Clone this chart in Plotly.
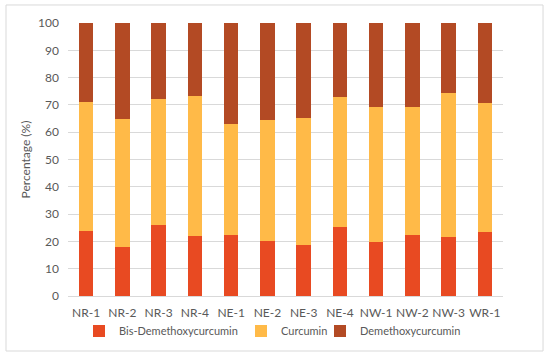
import plotly.graph_objects as go

categories = ["NR-1", "NR-2", "NR-3", "NR-4", "NE-1", "NE-2", "NE-3", "NE-4", "NW-1", "NW-2", "NW-3", "WR-1"]
bis_demethoxycurcumin = [23.8, 18.0, 25.9, 22.1, 22.3, 20.0, 18.7, 25.4, 19.9, 22.3, 21.5, 23.6]
curcumin = [47.1, 46.7, 46.4, 51.3, 40.6, 44.5, 46.5, 47.5, 49.3, 47.0, 52.8, 47.1]
demethoxycurcumin = [29.1, 35.3, 27.7, 26.6, 37.1, 35.5, 34.8, 27.1, 30.8, 30.7, 25.7, 29.3]
y_ticks = [0, 10, 20, 30, 40, 50, 60, 70, 80, 90, 100]

FAM = "Lato, Open Sans, Liberation Sans, sans-serif"
font = dict(family=FAM, size=12, color="#595959")
leg_font = dict(family=FAM, size=11, color="#595959")

L, R, T, B = 68, 47, 23, 61
PW = 550 - L - R

def px_x(px):
    return (px - L) / PW

fig = go.Figure()
fig.add_trace(go.Bar(x=categories, y=bis_demethoxycurcumin, name="Bis-Demethoxycurcumin",
                     marker=dict(color="#E84A22", line=dict(width=0)), legend="legend"))
fig.add_trace(go.Bar(x=categories, y=curcumin, name="Curcumin",
                     marker=dict(color="#FFBA48", line=dict(width=0)), legend="legend2"))
fig.add_trace(go.Bar(x=categories, y=demethoxycurcumin, name="Demethoxycurcumin",
                     marker=dict(color="#B34A24", line=dict(width=0)), legend="legend3"))

leg_common = dict(orientation="h", xanchor="left", y=-0.128, yanchor="middle",
                  font=leg_font, itemwidth=30, bgcolor="rgba(0,0,0,0)", borderwidth=0)

fig.update_layout(
    width=550, height=357,
    barmode="stack", bargap=0.6,
    margin=dict(l=L, r=R, t=T, b=B, autoexpand=False),
    paper_bgcolor="white", plot_bgcolor="white",
    font=font,
    showlegend=True,
    legend=dict(x=px_x(79), **leg_common),
    legend2=dict(x=px_x(241), **leg_common),
    legend3=dict(x=px_x(320), **leg_common),
    xaxis=dict(showgrid=False, showline=True, linecolor="#D9D9D9", linewidth=1,
               ticks="", tickfont=font, ticklabelstandoff=6),
    yaxis=dict(range=[0, 100], tickvals=y_ticks, showgrid=True, gridcolor="#D9D9D9",
               gridwidth=1, zeroline=False, showline=False, ticks="", tickfont=font,
               ticklabelstandoff=8,
               title=dict(text="Percentage (%)", font=font, standoff=4)),
    shapes=[dict(type="rect", xref="paper", yref="paper", x0=-0.1425, x1=1.092,
                 y0=-0.2015, y1=1.066, line=dict(color="#D9D9D9", width=1), layer="below")],
)

fig.write_html("out.html", config=dict(displayModeBar=False),
               post_script="document.body.style.margin='0';document.body.style.overflow='hidden';")
